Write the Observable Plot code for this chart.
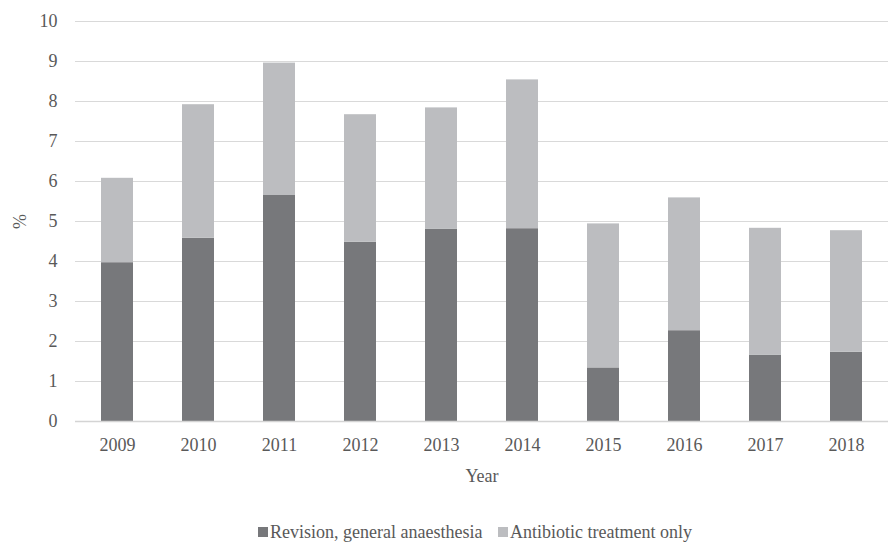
<!DOCTYPE html>
<html>
<head>
<meta charset="utf-8">
<script src="https://cdn.jsdelivr.net/npm/d3@7"></script>
<script src="https://cdn.jsdelivr.net/npm/@observablehq/plot@0.6"></script>
<style>
  html, body { margin: 0; padding: 0; background: #fff; }
  body { width: 890px; height: 543px; overflow: hidden; font-family: "Liberation Serif", "Times New Roman", Times, "DejaVu Serif", serif; color: #595959; }
  #chart svg { display: block; }
  #chart svg, #chart svg text { font-family: "Liberation Serif", "Times New Roman", Times, "DejaVu Serif", serif !important; }
  #legend { position: relative; height: 38px; font-size: 18px; }
  .item { position: absolute; top: 17px; display: flex; align-items: center; white-space: nowrap; line-height: 20px; }
  .sw { width: 10px; height: 10px; margin-right: 2px; display: inline-block; }
</style>
</head>
<body>
<div id="chart"></div>
<div id="legend"></div>
<script>
const years = ["2009","2010","2011","2012","2013","2014","2015","2016","2017","2018"];
const seriesNames = ["Revision, general anaesthesia", "Antibiotic treatment only"];
const revision   = [3.97, 4.58, 5.65, 4.48, 4.81, 4.82, 1.34, 2.27, 1.66, 1.73];
const antibiotic = [2.11, 3.34, 3.31, 3.19, 3.03, 3.72, 3.60, 3.32, 3.17, 3.04];
const colors = ["#77787b", "#bcbdc0"];
const yTicks = [0,1,2,3,4,5,6,7,8,9,10];

const data = [];
years.forEach((y, i) => {
  data.push({year: y, series: seriesNames[0], value: revision[i]});
  data.push({year: y, series: seriesNames[1], value: antibiotic[i]});
});

const chart = Plot.plot({
  width: 890,
  height: 505,
  marginTop: 21,
  marginBottom: 84,
  marginLeft: 75,
  marginRight: 2,
  style: {fontFamily: "Liberation Serif, Times New Roman, serif", fontSize: "18px", color: "#595959", background: "white"},
  x: {domain: years, paddingInner: 0.6, paddingOuter: 0.3, label: null},
  y: {domain: [0, 10], label: null},
  color: {domain: seriesNames, range: colors},
  marks: [
    Plot.gridY(yTicks.slice(1), {stroke: "#d9d9d9", strokeOpacity: 1, strokeWidth: 1}),
    Plot.barY(data, Plot.stackY({x: "year", y: "value", fill: "series", order: null})),
    Plot.ruleY([0], {stroke: "#d4d4d4", strokeWidth: 1.5}),
    Plot.axisX({tickSize: 0, tickPadding: 17, label: "Year", labelAnchor: "center", labelArrow: "none", labelOffset: 60, fontSize: 18}),
    Plot.axisY(yTicks, {tickSize: 0, tickPadding: 18, label: "%", labelAnchor: "center", labelArrow: "none", labelOffset: 62, fontSize: 18})
  ]
});
document.getElementById("chart").appendChild(chart);

const legend = document.getElementById("legend");
const lefts = [258, 498];
seriesNames.forEach((name, i) => {
  const item = document.createElement("div");
  item.className = "item";
  item.style.left = lefts[i] + "px";
  const sw = document.createElement("span");
  sw.className = "sw";
  sw.style.background = colors[i];
  item.appendChild(sw);
  const t = document.createElement("span");
  t.textContent = name;
  item.appendChild(t);
  legend.appendChild(item);
});
</script>
</body>
</html>
